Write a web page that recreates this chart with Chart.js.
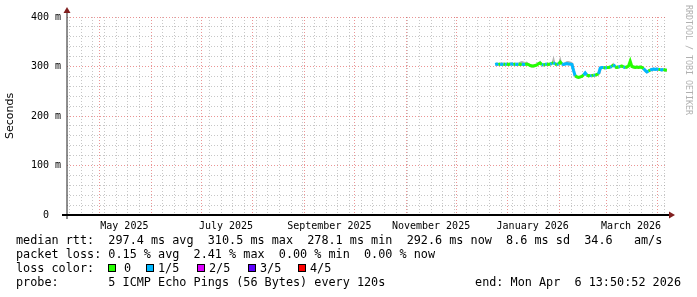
<!DOCTYPE html>
<html>
<head>
<meta charset="utf-8">
<script src="https://cdn.jsdelivr.net/npm/chart.js@4.4.1/dist/chart.umd.min.js"></script>
<style>
html,body{margin:0;padding:0;background:#fff;}
#wrap{width:697px;height:297px;}
</style>
</head>
<body>
<div id="wrap"><canvas id="c" width="697" height="297"></canvas></div>
<script>
// ---------------- data ----------------
const dates = [
 '2025-12-24','2025-12-25','2025-12-26','2025-12-27','2025-12-28','2025-12-29','2025-12-30','2025-12-31',
 '2026-01-01','2026-01-02','2026-01-03','2026-01-04','2026-01-05','2026-01-06','2026-01-07','2026-01-08',
 '2026-01-09','2026-01-10','2026-01-11','2026-01-12','2026-01-13','2026-01-14','2026-01-15','2026-01-16',
 '2026-01-17','2026-01-18','2026-01-19','2026-01-20','2026-01-21','2026-01-22','2026-01-23','2026-01-24',
 '2026-01-25','2026-01-26','2026-01-27','2026-01-28','2026-01-29','2026-01-30','2026-01-31',
 '2026-02-01','2026-02-02','2026-02-03','2026-02-04','2026-02-05','2026-02-06','2026-02-07','2026-02-08',
 '2026-02-09','2026-02-10','2026-02-11','2026-02-12','2026-02-13','2026-02-14','2026-02-15','2026-02-16',
 '2026-02-17','2026-02-18','2026-02-19','2026-02-20','2026-02-21','2026-02-22','2026-02-23','2026-02-24',
 '2026-02-25','2026-02-26','2026-02-27','2026-02-28',
 '2026-03-01','2026-03-02','2026-03-03','2026-03-04','2026-03-05','2026-03-06','2026-03-07','2026-03-08',
 '2026-03-09','2026-03-10','2026-03-11','2026-03-12','2026-03-13','2026-03-14','2026-03-15','2026-03-16',
 '2026-03-17','2026-03-18','2026-03-19','2026-03-20','2026-03-21','2026-03-22','2026-03-23','2026-03-24',
 '2026-03-25','2026-03-26','2026-03-27','2026-03-28','2026-03-29','2026-03-30','2026-03-31',
 '2026-04-01','2026-04-02','2026-04-03','2026-04-04','2026-04-05','2026-04-06'
];
// median rtt in ms
const medianRtt = [
 304,305,304,305,304,305,304,305,
 304,305,305,304,305,304,305,304,305,304,304,305,304,302,301,301,302,303,306,307,304,303,304,305,304,305,306,308,305,304,305,
 309,305,304,305,306,305,305,304,292,281,279,278.1,279,280,283,287,283,281,282,281,283,282,284,285,297,298,298,297,
 298,298,299,300,304,299,298,299,300,301,299,298,299,301,310.5,300,299,298,299,298,299,298,296,292,289,291,293,294,295,294,295,
 294,294,293,294,293,292.6
];
// number of lost pings (out of 5)
const lossCount = [
 1,1,0,1,1,0,1,0,
 0,1,1,0,1,1,0,0,1,1,0,0,0,0,0,0,0,0,0,0,1,0,1,0,0,1,0,1,0,1,0,
 0,1,1,1,1,1,1,1,1,0,0,0,0,0,1,1,0,0,1,0,1,0,0,1,1,1,0,1,
 0,0,1,0,1,0,0,1,0,0,1,0,0,0,0,0,0,0,0,0,0,0,1,1,1,0,1,1,1,1,1,
 0,1,1,0,0,0
];
// smoke envelope (ms)
const smokeHigh = [
 307,308,307,308,307,308,307,308,
 307,308,308,307,308,307,308,310,311,310,309,310,307,305,304,304,305,306,309,312,307,306,307,308,307,308,309,322,308,307,308,
 321,308,307,309,311,311,310,309,306,284,282,281,282,283,286,291,286,284,285,284,286,285,287,288,300,301,301,300,
 301,301,302,303,308,302,301,302,303,304,302,301,302,304,314,303,302,301,302,301,302,301,299,295,292,294,296,297,298,297,298,
 297,297,296,297,296,296
];
const smokeLow = [
 301,302,301,302,301,302,301,302,
 301,302,302,301,302,301,302,301,302,301,301,302,301,299,298,298,299,300,303,304,301,300,301,302,301,302,303,305,302,301,302,
 306,302,301,302,303,302,302,301,280,278,276,275,276,277,280,284,280,278,279,278,280,279,281,282,285,295,295,294,
 295,295,296,297,301,296,295,296,297,298,296,295,296,298,307,297,296,295,296,295,296,295,293,288,286,288,290,291,292,291,292,
 291,291,290,291,290,289.6
];
const yTickValues = [0,100,200,300,400];
const yTickLabels = ['0  ','100 m','200 m','300 m','400 m'];
const monthLabelDates = ['2025-05-16','2025-07-16','2025-09-16','2025-11-16','2026-01-16','2026-03-16'];
const monthLabels = ['May 2025','July 2025','September 2025','November 2025','January 2026','March 2026'];
const lossLegendLabels = ['0','1/5','2/5','3/5','4/5'];
const lossColors = ['#26ff00','#00b8ff','#dd00ff','#5e00ff','#ff0000'];
const statsLines = [
 'median rtt:  297.4 ms avg  310.5 ms max  278.1 ms min  292.6 ms now  8.6 ms sd  34.6   am/s',
 'packet loss: 0.15 % avg  2.41 % max  0.00 % min  0.00 % now'
];
const lossTitle = 'loss color:';
const probeText = 'probe:       5 ICMP Echo Pings (56 Bytes) every 120s';
const endText = 'end: Mon Apr  6 13:50:52 2026';
const watermark = 'RRDTOOL / TOBI OETIKER';

// ---------------- time helpers ----------------
const T_START = Date.UTC(2025,3,11,13,50,52);
const T_END = Date.UTC(2026,3,6,13,50,52);
const DAY = 86400000;
const dayOf = ms => (ms - T_START) / DAY;
const xOfDate = (s, h) => dayOf(Date.parse(s + 'T' + (h || '00:00:00') + 'Z'));
const XMAX = dayOf(T_END);

// grid ticks for x
const xTicks = [];
const monthStarts = [];
for (let y = 2025, m = 4; !(y === 2026 && m > 3); ) {
  monthStarts.push(Date.UTC(y, m, 1));
  m++; if (m > 11) { m = 0; y++; }
}
const monthSet = new Set(monthStarts.map(t => Math.round(t / DAY)));
for (let t = Date.UTC(2025,3,13); t < T_END; t += 7 * DAY) {
  if (t > T_START && !monthSet.has(Math.round(t / DAY))) xTicks.push({value: dayOf(t), kind: 'minor', text: ''});
}
monthStarts.forEach(t => xTicks.push({value: dayOf(t), kind: 'major', text: ''}));
monthLabelDates.forEach((d, i) => xTicks.push({value: xOfDate(d), kind: 'label', text: monthLabels[i]}));
xTicks.sort((a, b) => a.value - b.value);

const yTicks = [];
for (let v = 0; v <= 400; v += 20) yTicks.push({value: v});

const pts = arr => arr.map((v, i) => ({x: xOfDate(dates[i], '12:00:00'), y: v}));

const GRID = 'rgba(143,143,143,0.5)';
const MGRID = 'rgba(222,79,79,0.6)';
const MONO = '"DejaVu Sans Mono", monospace';

// ---------------- decoration plugin ----------------
const rrdDecor = {
  id: 'rrdDecor',
  afterDatasetsDraw(chart) {
    const ctx = chart.ctx;
    const a = chart.chartArea;
    ctx.save();
    // y axis
    ctx.strokeStyle = '#1f1f1f';
    ctx.lineWidth = 1;
    ctx.beginPath();
    ctx.moveTo(a.left, a.bottom + 4);
    ctx.lineTo(a.left, 12);
    ctx.stroke();
    // x axis
    ctx.lineWidth = 2;
    ctx.strokeStyle = '#000';
    ctx.beginPath();
    ctx.moveTo(a.left - 5, a.bottom);
    ctx.lineTo(a.right + 3, a.bottom);
    ctx.stroke();
    // arrows
    ctx.fillStyle = '#801f1f';
    ctx.beginPath();
    ctx.moveTo(a.left, 7);
    ctx.lineTo(a.left + 3.5, 13);
    ctx.lineTo(a.left - 3.5, 13);
    ctx.closePath();
    ctx.fill();
    ctx.beginPath();
    ctx.moveTo(a.right + 8, a.bottom);
    ctx.lineTo(a.right + 2, a.bottom - 3.5);
    ctx.lineTo(a.right + 2, a.bottom + 3.5);
    ctx.closePath();
    ctx.fill();
    ctx.restore();
  },
  afterDraw(chart) {
    const ctx = chart.ctx;
    ctx.save();
    ctx.fillStyle = '#000';
    ctx.font = '11.8px ' + MONO;
    ctx.textBaseline = 'alphabetic';
    ctx.textAlign = 'left';
    ctx.fillText(statsLines[0], 16, 244);
    ctx.fillText(statsLines[1], 16, 258);
    ctx.fillText(lossTitle, 16, 272);
    const boxX = [108, 146, 197, 248, 298];
    const txtX = [124, 158, 209, 260, 310];
    lossLegendLabels.forEach((lab, i) => {
      ctx.fillStyle = lossColors[i];
      ctx.fillRect(boxX[i], 264, 8, 8);
      ctx.strokeStyle = '#000';
      ctx.lineWidth = 1;
      ctx.strokeRect(boxX[i] + 0.5, 264.5, 7, 7);
      ctx.fillStyle = '#000';
      ctx.fillText(lab, txtX[i], 272);
    });
    ctx.fillText(probeText, 16, 286);
    ctx.textAlign = 'right';
    ctx.fillText(endText, 681, 286);
    // watermark
    ctx.translate(688, 5);
    ctx.rotate(Math.PI / 2);
    ctx.textAlign = 'left';
    ctx.textBaseline = 'middle';
    ctx.fillStyle = '#b0b0b0';
    ctx.font = '8.3px ' + MONO;
    ctx.fillText(watermark, 0, 0);
    ctx.restore();
  }
};

// ---------------- chart ----------------
new Chart(document.getElementById('c'), {
  type: 'line',
  data: {
    datasets: [
      {
        label: 'median',
        data: pts(medianRtt),
        borderWidth: 3,
        pointRadius: 0,
        fill: false,
        borderColor: lossColors[0],
        borderCapStyle: 'butt',
        segment: { borderColor: c => lossColors[lossCount[c.p0DataIndex]] },
        order: 0
      },
      {
        label: 'smokeLow',
        data: pts(smokeLow),
        borderWidth: 0,
        pointRadius: 0,
        fill: false,
        borderColor: 'rgba(0,0,0,0)',
        order: 2
      },
      {
        label: 'smokeHigh',
        data: pts(smokeHigh),
        borderWidth: 0,
        pointRadius: 0,
        fill: '-1',
        borderColor: 'rgba(0,0,0,0)',
        backgroundColor: '#b4b4b4',
        order: 1
      }
    ]
  },
  options: {
    responsive: false,
    maintainAspectRatio: false,
    animation: false,
    devicePixelRatio: 1,
    layout: { padding: { left: 0, right: 30, top: 17, bottom: 62 } },
    plugins: { legend: { display: false }, tooltip: { enabled: false } },
    scales: {
      x: {
        type: 'linear',
        min: 0,
        max: XMAX,
        afterBuildTicks: s => { s.ticks = xTicks.map(t => Object.assign({}, t)); },
        afterFit: s => { s.height = 20; },
        grid: {
          drawTicks: false,
          lineWidth: 1,
          color: c => (c.tick && c.tick.kind === 'major') ? MGRID : (c.tick && c.tick.kind === 'minor') ? GRID : 'rgba(0,0,0,0)'
        },
        border: { display: false, dash: [1, 2] },
        ticks: {
          autoSkip: false,
          maxRotation: 0,
          minRotation: 0,
          padding: 5,
          color: '#000',
          font: { family: MONO, size: 10 },
          callback: (v, i, t) => t[i].text || ''
        }
      },
      y: {
        min: 0,
        max: 400,
        afterBuildTicks: s => { s.ticks = yTicks.map(t => Object.assign({}, t)); },
        afterFit: s => { s.width = 67; },
        grid: {
          drawTicks: false,
          lineWidth: 1,
          color: c => (c.tick && c.tick.value % 100 === 0) ? MGRID : GRID
        },
        border: { display: false, dash: [1, 2] },
        ticks: {
          autoSkip: false,
          padding: 6,
          color: '#000',
          font: { family: MONO, size: 10 },
          callback: v => { const k = yTickValues.indexOf(v); return k >= 0 ? yTickLabels[k] : ''; }
        },
        title: {
          display: true,
          text: 'Seconds',
          color: '#000',
          font: { family: '"DejaVu Sans", sans-serif', size: 11 },
          padding: { top: 4, bottom: 0 }
        }
      }
    }
  },
  plugins: [rrdDecor]
});
</script>
</body>
</html>
